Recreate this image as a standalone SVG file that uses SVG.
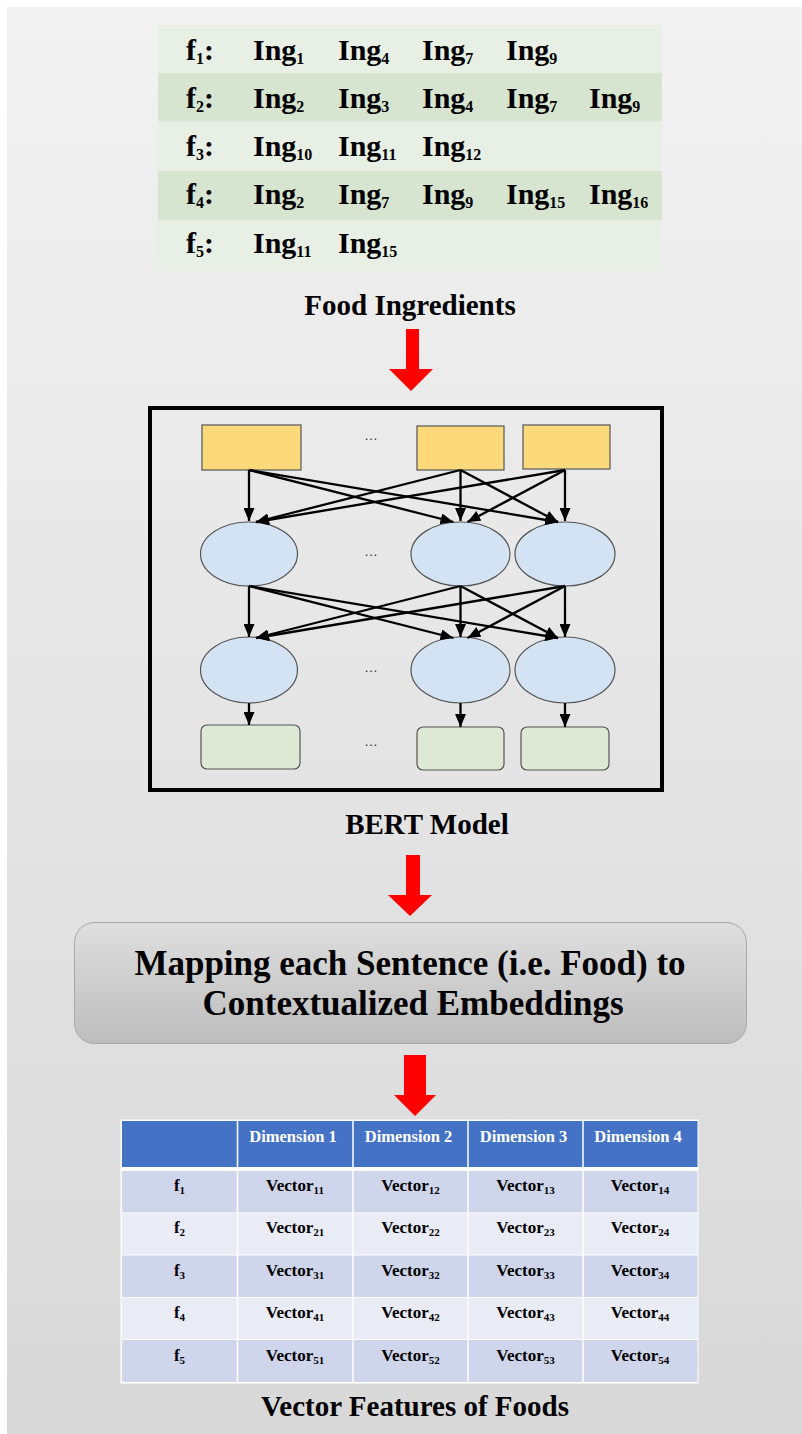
<svg xmlns="http://www.w3.org/2000/svg" width="802" height="1434" viewBox="0 0 802 1434">
<defs>
<linearGradient id="bg" x1="0" y1="0" x2="0" y2="1">
<stop offset="0" stop-color="#f2f2f2"/>
<stop offset="1" stop-color="#d8d8d8"/>
</linearGradient>
<linearGradient id="mapg" x1="0" y1="0" x2="0" y2="1">
<stop offset="0" stop-color="#dedede"/>
<stop offset="1" stop-color="#bdbdbd"/>
</linearGradient>
<marker id="ah" markerUnits="userSpaceOnUse" markerWidth="13" markerHeight="11" refX="13" refY="5.5" orient="auto" viewBox="0 0 13 11">
<path d="M0,0 L13,5.5 L0,11 z" fill="#000"/>
</marker>
</defs>
<style>
.t{font-family:"Liberation Serif","Times New Roman",serif;font-weight:bold;fill:#000}
.ing{font-size:30px}
.lbl{font-size:29px}
.map{font-size:35px}
.hd{font-size:16.5px;fill:#fff}
.cv{font-size:17px}
.tok{fill:#fcd97a;stroke:#555;stroke-width:1.2}
.hid{fill:#d4e3f3;stroke:#555;stroke-width:1.2}
.out{fill:#dde9d5;stroke:#555;stroke-width:1.2}
.dots{font-family:"Liberation Sans",Arial,sans-serif;font-size:14px;fill:#333}
.c{stroke:#000;stroke-width:2.3;fill:none;marker-end:url(#ah)}
.red{fill:#ff0000}
</style>
<rect x="0" y="0" width="802" height="1434" fill="#fff"/>
<rect x="7" y="7" width="795" height="1427" fill="url(#bg)"/>

<g id="ingredients-table">
<rect x="158" y="25" width="504" height="48" fill="#e8efe5"/>
<rect x="158" y="73" width="504" height="48" fill="#d6e4d0"/>
<rect x="158" y="121" width="504" height="50" fill="#e8efe5"/>
<rect x="158" y="171" width="504" height="49.5" fill="#d6e4d0"/>
<rect x="158" y="220.5" width="504" height="49.5" fill="#e8efe5"/>
<g class="t ing">
<text x="186" y="60">f<tspan font-size="16" dy="4">1</tspan><tspan dy="-4">:</tspan></text>
<text x="253" y="60">Ing<tspan font-size="16" dy="4">1</tspan></text>
<text x="338" y="60">Ing<tspan font-size="16" dy="4">4</tspan></text>
<text x="422" y="60">Ing<tspan font-size="16" dy="4">7</tspan></text>
<text x="506" y="60">Ing<tspan font-size="16" dy="4">9</tspan></text>

<text x="186" y="108">f<tspan font-size="16" dy="4">2</tspan><tspan dy="-4">:</tspan></text>
<text x="253" y="108">Ing<tspan font-size="16" dy="4">2</tspan></text>
<text x="338" y="108">Ing<tspan font-size="16" dy="4">3</tspan></text>
<text x="422" y="108">Ing<tspan font-size="16" dy="4">4</tspan></text>
<text x="506" y="108">Ing<tspan font-size="16" dy="4">7</tspan></text>
<text x="589" y="108">Ing<tspan font-size="16" dy="4">9</tspan></text>

<text x="186" y="156">f<tspan font-size="16" dy="4">3</tspan><tspan dy="-4">:</tspan></text>
<text x="253" y="156">Ing<tspan font-size="16" dy="4">10</tspan></text>
<text x="338" y="156">Ing<tspan font-size="16" dy="4">11</tspan></text>
<text x="422" y="156">Ing<tspan font-size="16" dy="4">12</tspan></text>

<text x="186" y="204">f<tspan font-size="16" dy="4">4</tspan><tspan dy="-4">:</tspan></text>
<text x="253" y="204">Ing<tspan font-size="16" dy="4">2</tspan></text>
<text x="338" y="204">Ing<tspan font-size="16" dy="4">7</tspan></text>
<text x="422" y="204">Ing<tspan font-size="16" dy="4">9</tspan></text>
<text x="506" y="204">Ing<tspan font-size="16" dy="4">15</tspan></text>
<text x="589" y="204">Ing<tspan font-size="16" dy="4">16</tspan></text>

<text x="186" y="253">f<tspan font-size="16" dy="4">5</tspan><tspan dy="-4">:</tspan></text>
<text x="253" y="253">Ing<tspan font-size="16" dy="4">11</tspan></text>
<text x="338" y="253">Ing<tspan font-size="16" dy="4">15</tspan></text>
</g>
</g>

<g id="label-food-ingredients">
<text class="t lbl" x="410" y="315" text-anchor="middle">Food Ingredients</text>
</g>

<g id="bert-model">
<rect x="150" y="408" width="512" height="382" fill="none" stroke="#000" stroke-width="4"/>
<g id="tok1"><rect class="tok" x="202" y="425" width="99" height="45"/></g>
<g id="tok2"><rect class="tok" x="417" y="426" width="87" height="44"/></g>
<g id="tok3"><rect class="tok" x="523" y="425" width="87" height="44"/></g>
<g id="h1a"><ellipse class="hid" cx="249" cy="554" rx="48.5" ry="32"/></g>
<g id="h1b"><ellipse class="hid" cx="460.5" cy="554" rx="49.5" ry="32"/></g>
<g id="h1c"><ellipse class="hid" cx="565" cy="554" rx="50" ry="32"/></g>
<g id="h2a"><ellipse class="hid" cx="249" cy="670" rx="48.5" ry="33"/></g>
<g id="h2b"><ellipse class="hid" cx="460.5" cy="670" rx="49.5" ry="33"/></g>
<g id="h2c"><ellipse class="hid" cx="565" cy="670" rx="50" ry="33"/></g>
<g id="o1"><rect class="out" x="201" y="725" width="99" height="44" rx="6"/></g>
<g id="o2"><rect class="out" x="417" y="727" width="87" height="43" rx="6"/></g>
<g id="o3"><rect class="out" x="521" y="727" width="88" height="43" rx="6"/></g>
<g class="dots" text-anchor="middle">
<text x="371" y="440">…</text>
<text x="371" y="556">…</text>
<text x="371" y="672">…</text>
<text x="371" y="746">…</text>
</g>
</g>

<g id="connectors">
<line class="c" x1="249" y1="470" x2="249" y2="521"/>
<line class="c" x1="249" y1="470" x2="453.5" y2="522"/>
<line class="c" x1="249" y1="470" x2="558" y2="522"/>
<line class="c" x1="460.5" y1="470" x2="256" y2="522"/>
<line class="c" x1="460.5" y1="470" x2="460.5" y2="521"/>
<line class="c" x1="460.5" y1="470" x2="558" y2="522"/>
<line class="c" x1="565" y1="470" x2="256" y2="522"/>
<line class="c" x1="565" y1="470" x2="467.5" y2="522"/>
<line class="c" x1="565" y1="470" x2="565" y2="521"/>

<line class="c" x1="249" y1="586" x2="249" y2="637"/>
<line class="c" x1="249" y1="586" x2="453.5" y2="638"/>
<line class="c" x1="249" y1="586" x2="558" y2="638"/>
<line class="c" x1="460.5" y1="586" x2="256" y2="638"/>
<line class="c" x1="460.5" y1="586" x2="460.5" y2="637"/>
<line class="c" x1="460.5" y1="586" x2="558" y2="638"/>
<line class="c" x1="565" y1="586" x2="256" y2="638"/>
<line class="c" x1="565" y1="586" x2="467.5" y2="638"/>
<line class="c" x1="565" y1="586" x2="565" y2="637"/>

<line class="c" x1="249" y1="703" x2="249" y2="725"/>
<line class="c" x1="460.5" y1="703" x2="460.5" y2="727"/>
<line class="c" x1="565" y1="703" x2="565" y2="727"/>

<polygon class="red" points="406,329 419,329 419,369 433,369 411,391 389,369 406,369"/>
<polygon class="red" points="406,855 420,855 420,895 432,895 410,916 388,895 406,895"/>
<polygon class="red" points="404,1055 426,1055 426,1095 436,1095 415,1116 394,1095 404,1095"/>
</g>

<g id="label-bert">
<text class="t lbl" x="427" y="834" text-anchor="middle">BERT Model</text>
</g>

<g id="mapping">
<rect x="74.5" y="922.5" width="672" height="121" rx="20" fill="url(#mapg)" stroke="#a8a8a8" stroke-width="1"/>
<text class="t map" x="410" y="975" text-anchor="middle">Mapping each Sentence (i.e. Food) to</text>
<text class="t map" x="413" y="1015" text-anchor="middle">Contextualized Embeddings</text>
</g>

<g id="vector-table">
<rect x="120.5" y="1119.5" width="578" height="264" fill="#fff"/>
<rect x="122" y="1121" width="575.5" height="46" fill="#4472c4"/>
<rect x="122" y="1171" width="575.5" height="41.5" fill="#cfd5ea"/>
<rect x="122" y="1213.5" width="575.5" height="41" fill="#e9ebf5"/>
<rect x="122" y="1255.5" width="575.5" height="41.5" fill="#cfd5ea"/>
<rect x="122" y="1298" width="575.5" height="41" fill="#e9ebf5"/>
<rect x="122" y="1340" width="575.5" height="42" fill="#cfd5ea"/>
<g stroke="#fff" stroke-width="1.5">
<line x1="237.5" y1="1120" x2="237.5" y2="1383"/>
<line x1="353" y1="1120" x2="353" y2="1383"/>
<line x1="468" y1="1120" x2="468" y2="1383"/>
<line x1="583" y1="1120" x2="583" y2="1383"/>
</g>
<g class="t hd" text-anchor="middle">
<text x="293" y="1142">Dimension 1</text>
<text x="408.5" y="1142">Dimension 2</text>
<text x="523.5" y="1142">Dimension 3</text>
<text x="638" y="1142">Dimension 4</text>
</g>
<g class="t cv" text-anchor="middle">
<text x="179.5" y="1191">f<tspan font-size="11" dy="3">1</tspan></text>
<text x="295" y="1191">Vector<tspan font-size="11" dy="3">11</tspan></text>
<text x="410.5" y="1191">Vector<tspan font-size="11" dy="3">12</tspan></text>
<text x="525.5" y="1191">Vector<tspan font-size="11" dy="3">13</tspan></text>
<text x="640" y="1191">Vector<tspan font-size="11" dy="3">14</tspan></text>

<text x="179.5" y="1233">f<tspan font-size="11" dy="3">2</tspan></text>
<text x="295" y="1233">Vector<tspan font-size="11" dy="3">21</tspan></text>
<text x="410.5" y="1233">Vector<tspan font-size="11" dy="3">22</tspan></text>
<text x="525.5" y="1233">Vector<tspan font-size="11" dy="3">23</tspan></text>
<text x="640" y="1233">Vector<tspan font-size="11" dy="3">24</tspan></text>

<text x="179.5" y="1276">f<tspan font-size="11" dy="3">3</tspan></text>
<text x="295" y="1276">Vector<tspan font-size="11" dy="3">31</tspan></text>
<text x="410.5" y="1276">Vector<tspan font-size="11" dy="3">32</tspan></text>
<text x="525.5" y="1276">Vector<tspan font-size="11" dy="3">33</tspan></text>
<text x="640" y="1276">Vector<tspan font-size="11" dy="3">34</tspan></text>

<text x="179.5" y="1318">f<tspan font-size="11" dy="3">4</tspan></text>
<text x="295" y="1318">Vector<tspan font-size="11" dy="3">41</tspan></text>
<text x="410.5" y="1318">Vector<tspan font-size="11" dy="3">42</tspan></text>
<text x="525.5" y="1318">Vector<tspan font-size="11" dy="3">43</tspan></text>
<text x="640" y="1318">Vector<tspan font-size="11" dy="3">44</tspan></text>

<text x="179.5" y="1361">f<tspan font-size="11" dy="3">5</tspan></text>
<text x="295" y="1361">Vector<tspan font-size="11" dy="3">51</tspan></text>
<text x="410.5" y="1361">Vector<tspan font-size="11" dy="3">52</tspan></text>
<text x="525.5" y="1361">Vector<tspan font-size="11" dy="3">53</tspan></text>
<text x="640" y="1361">Vector<tspan font-size="11" dy="3">54</tspan></text>
</g>
</g>

<g id="label-vector-features">
<text class="t lbl" x="415" y="1416" text-anchor="middle">Vector Features of Foods</text>
</g>
</svg>
